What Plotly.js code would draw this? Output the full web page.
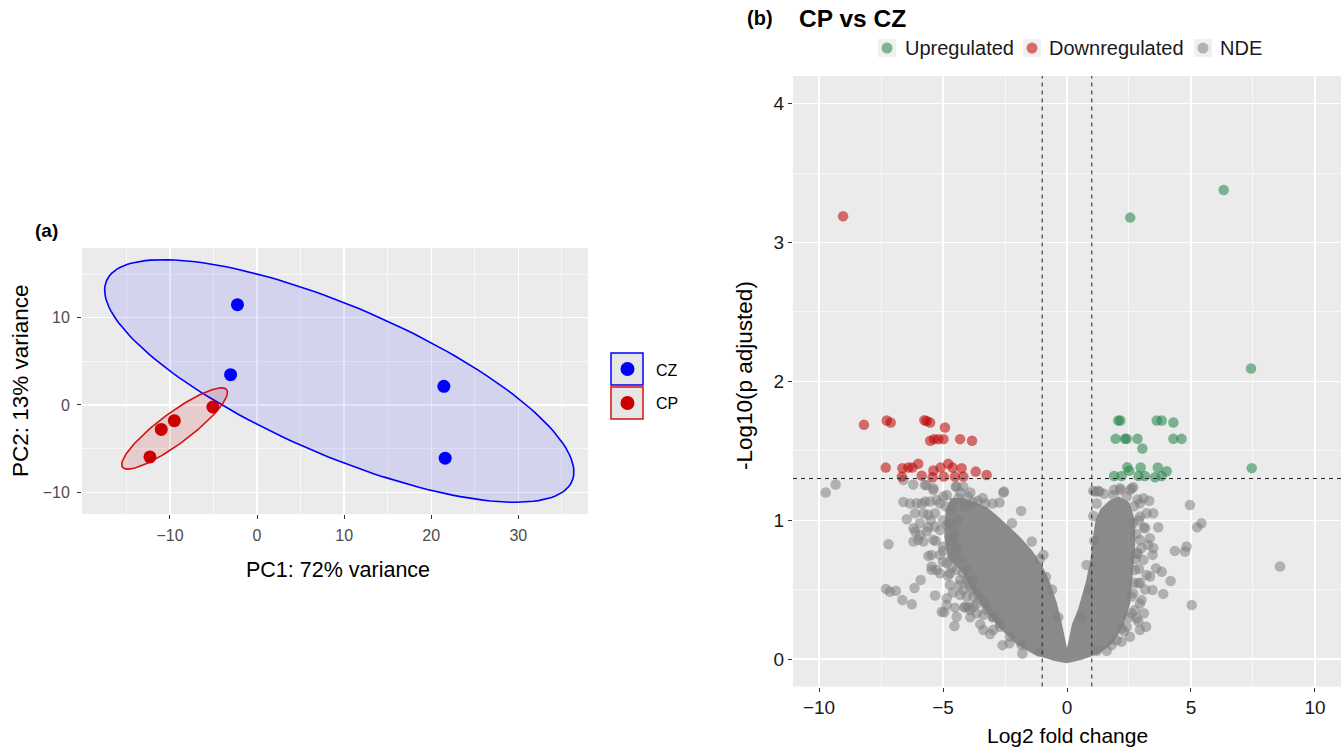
<!DOCTYPE html>
<html>
<head>
<meta charset="utf-8">
<script src="https://cdn.plot.ly/plotly-3.0.1.min.js"></script>
<style>html,body{margin:0;padding:0;background:#fff;}#chart{width:1341px;height:748px;}</style>
</head>
<body>
<div id="chart"></div>
<script>
// ---------- Panel (a): PCA ----------
const pcaGroups = ["CZ", "CP"];
const cz_pc1 = [-2.25, -3.04, 21.45, 21.6];
const cz_pc2 = [11.5, 3.47, 2.14, -6.1];
const cp_pc1 = [-5.07, -9.5, -11.0, -12.3];
const cp_pc2 = [-0.23, -1.8, -2.8, -5.95];
const pc1Ticks = [-10, 0, 10, 20, 30];
const pc2Ticks = [-10, 0, 10];

// ---------- Panel (b): volcano ----------
const volcanoClasses = ["Upregulated", "Downregulated", "NDE"];
const up_lfc = [6.32,2.55,7.42,7.45,2.07,2.15,3.62,3.82,4.29,1.96,2.34,2.41,2.84,4.29,4.62,3.04,2.43,2.51,2.97,3.66,4.02,1.90,2.20,2.88,3.14,3.55,3.82];
const up_logp = [3.379,3.18,2.093,1.375,1.718,1.718,1.718,1.718,1.704,1.586,1.586,1.586,1.586,1.586,1.586,1.516,1.382,1.356,1.38,1.38,1.353,1.319,1.319,1.319,1.319,1.31,1.319];
const down_lfc = [-9.03,-8.19,-7.27,-7.11,-5.75,-5.66,-5.52,-4.92,-5.52,-5.36,-5.19,-4.98,-4.31,-3.83,-7.31,-6.64,-6.40,-6.24,-6.0,-6.66,-5.86,-5.39,-5.42,-5.1,-4.97,-4.79,-4.61,-4.52,-4.25,-4.18,-3.68,-3.24];
const down_logp = [3.19,1.687,1.718,1.704,1.72,1.715,1.704,1.668,1.572,1.584,1.584,1.584,1.584,1.572,1.379,1.374,1.379,1.379,1.406,1.314,1.321,1.358,1.31,1.379,1.314,1.406,1.379,1.314,1.374,1.314,1.35,1.326];
const nde_lfc = [-9.73,-9.33,-7.2,-7.3,-7.14,-6.9,-6.64,-6.26,-6.15,-5.9,-5.59,-5.32,-5.05,-4.95,-4.85,-4.54,-4.52,-4.14,-6.6,-6.2,-6.46,-6.12,-6.0,-6.19,-5.79,-6.06,-5.72,-5.46,-5.46,-5.26,-5.26,-4.99,-5.66,-5.39,-5.79,-5.12,-4.71,-4.38,-4.45,-4.18,-4.34,-4.18,-3.78,-4.04,-3.64,-3.78,-6.6,-5.73,-5.39,-4.49,-2.54,-2.72,-1.85,-2.57,-2.22,-1.42,-0.95,-0.85,-1.12,-2.32,-2.97,-4.11,-3.37,-5.5,-5.3,-5.0,-5.6,-4.8,-4.6,-3.9,-3.5,-3.1,-2.6,-1.8,-3.0,-3.4,-3.9,-4.3,-1.1,-0.6,-0.35,
  -6.33,-6.13,-5.85,-5.52,-5.12,-4.85,-5.59,-5.32,-4.99,-5.93,-6.19,-5.65,-5.32,-4.85,-5.93,-5.39,-4.99,-4.58,-4.45,-4.65,-5.12,-4.85,-4.45,-5.46,-5.12,-4.72,-4.04,-4.31,-3.91,-4.72,-4.31,-3.78,-3.98,-3.64,-4.85,-4.45,
  -4.04,-3.78,-3.51,-3.24,-3.91,-2.97,-2.7,-3.37,-2.3,-1.83,-4.0,-3.6,-3.3,
  -4.9,-4.75,-4.6,-4.55,-4.4,-4.7,-4.5,-4.3,-5.0,-4.65,-4.2,-3.95,-3.6,-3.3,-3.0,-2.7,-4.1,-3.8,
  1.13,1.31,0.79,1.6,2.54,2.0,1.06,1.26,2.16,2.61,2.67,3.08,3.32,3.48,3.68,3.34,3.48,3.45,3.59,3.82,3.35,4.18,3.45,3.88,3.15,3.19,2.2,2.88,2.74,2.94,4.35,4.76,4.82,4.96,5.25,5.42,5.03,8.59,2.9,3.0,2.9,3.1,2.85,1.5,1.9,0.9,0.6,1.1,2.3,3.1,2.95,
  2.41,2.94,3.21,2.94,2.67,3.15,2.94,3.27,2.81,3.08,2.74,3.21,2.88,2.67,3.01,2.61,2.81,2.94,2.41,1.06,1.2,2.14,2.54,1.87,
  2.7,2.8,2.75,2.85,2.7,2.6,2.5,2.2,1.8,1.2];
const nde_logp = [1.20,1.257,0.827,0.505,0.485,0.492,0.425,0.394,0.511,0.57,0.743,0.457,0.341,0.336,0.437,0.238,0.37,0.372,1.132,1.257,1.007,0.918,0.858,0.846,0.846,1.122,1.134,0.75,0.666,0.642,1.146,1.17,1.254,1.218,1.05,0.93,1.074,1.158,1.242,1.242,0.533,0.498,0.57,0.45,0.40,0.377,1.29,1.254,1.23,1.242,1.206,1.127,1.067,1.2,0.978,0.846,0.75,0.593,0.053,0.113,0.21,0.377,0.318,1.0,0.85,0.78,0.95,0.6,0.48,0.3,0.25,0.18,0.1,0.04,1.12,1.16,1.2,1.2,0.72,0.5,0.3,
  1.12,1.05,1.12,1.134,1.12,1.182,1.04,1.05,1.0,0.978,0.942,0.918,0.954,0.966,0.894,0.858,0.81,0.882,0.81,0.726,0.75,0.69,0.642,0.642,0.618,0.618,0.642,0.57,0.522,0.534,0.462,0.45,0.377,0.329,0.389,0.305,
  0.57,0.5,0.43,0.353,0.353,0.305,0.233,0.209,0.161,0.101,1.17,1.14,1.12,
  1.1,0.98,1.1,0.92,1.0,0.85,0.78,0.72,0.7,0.66,0.62,0.55,0.47,0.4,0.3,0.26,1.1,1.13,
  1.206,1.206,0.678,0.06,0.161,0.137,1.211,1.21,1.218,1.23,1.238,1.159,1.14,1.05,0.949,0.87,0.80,0.75,0.654,0.629,0.594,0.562,0.497,0.469,0.5,0.233,0.125,0.27,0.352,0.4,0.779,0.774,0.81,1.11,0.949,0.978,0.389,0.666,1.0,0.8,0.65,0.95,1.15,1.19,1.22,0.5,0.3,0.85,0.2,0.33,0.55,
  1.17,1.122,1.05,1.026,0.978,0.942,0.858,0.822,0.762,0.714,0.642,0.606,0.546,0.474,0.426,0.329,0.293,0.209,0.233,1.03,1.12,1.23,1.218,1.182,
  1.1,0.9,0.72,0.76,0.55,0.45,0.3,0.22,0.1,0.06];
// outline of the solid, fully overlapped NDE mass
const core_lfc = [-4.7,-4.2,-3.6,-3.2,-2.8,-2.4,-1.9,-1.4,-1.0,-0.7,-0.4,-0.2,0.0,0.2,0.45,0.75,0.95,1.05,1.15,1.35,1.7,2.1,2.5,2.75,2.75,2.65,2.55,2.3,1.9,1.3,0.6,0.0,-0.5,-1.3,-2.0,-2.7,-3.3,-3.8,-4.25,-4.8,-4.95,-4.9];
const core_logp = [1.16,1.16,1.12,1.09,1.03,0.96,0.88,0.78,0.67,0.56,0.40,0.25,0.08,0.25,0.36,0.55,0.72,0.88,1.0,1.08,1.14,1.17,1.13,1.0,0.80,0.60,0.40,0.25,0.12,0.04,-0.005,-0.03,-0.015,0.03,0.10,0.22,0.35,0.49,0.63,0.73,0.88,1.05];
const lfcCut = 1;
const padjCut = 1.3;
const lfcTicks = [-10, -5, 0, 5, 10];
const logpTicks = [0, 1, 2, 3, 4];

// ---------- helpers ----------
const W = 1341, H = 748;
const px = x => x / W;
const py = y => 1 - y / H;
const FONT = "Liberation Sans, Arial, Helvetica, sans-serif";

// confidence-style ellipse from the group's covariance
function ellipse(xs, ys, k, n) {
  const m = xs.length;
  const mx = xs.reduce((a, b) => a + b, 0) / m;
  const my = ys.reduce((a, b) => a + b, 0) / m;
  let sxx = 0, syy = 0, sxy = 0;
  for (let i = 0; i < m; i++) {
    sxx += (xs[i] - mx) ** 2; syy += (ys[i] - my) ** 2; sxy += (xs[i] - mx) * (ys[i] - my);
  }
  sxx /= (m - 1); syy /= (m - 1); sxy /= (m - 1);
  const tr = sxx + syy, det = sxx * syy - sxy * sxy;
  const l1 = tr / 2 + Math.sqrt(tr * tr / 4 - det), l2 = tr / 2 - Math.sqrt(tr * tr / 4 - det);
  const th = Math.atan2(l1 - sxx, sxy);
  const a = k * Math.sqrt(l1), b = k * Math.sqrt(l2);
  const ex = [], ey = [];
  for (let i = 0; i <= n; i++) {
    const t = 2 * Math.PI * i / n;
    ex.push(mx + a * Math.cos(t) * Math.cos(th) - b * Math.sin(t) * Math.sin(th));
    ey.push(my + a * Math.cos(t) * Math.sin(th) + b * Math.sin(t) * Math.cos(th));
  }
  return {x: ex, y: ey};
}
const K = 1.93;
const eCZ = ellipse(cz_pc1, cz_pc2, K, 160);
const eCP = ellipse(cp_pc1, cp_pc2, K, 160);

const COL_CZ = "#0000ff", COL_CP = "#cc0000";
const COL_UP = "rgba(30,130,70,0.55)", COL_DOWN = "rgba(190,0,0,0.55)", COL_NDE = "rgba(127,127,127,0.55)";

const traces = [
  {x: eCZ.x, y: eCZ.y, type: "scatter", mode: "lines", fill: "toself", fillcolor: "rgba(0,0,255,0.10)",
   line: {color: COL_CZ, width: 1.6}, xaxis: "x", yaxis: "y", showlegend: false, hoverinfo: "skip"},
  {x: eCP.x, y: eCP.y, type: "scatter", mode: "lines", fill: "toself", fillcolor: "rgba(204,0,0,0.13)",
   line: {color: "#d81010", width: 1.6}, xaxis: "x", yaxis: "y", showlegend: false, hoverinfo: "skip"},
  {x: cz_pc1, y: cz_pc2, name: pcaGroups[0], type: "scatter", mode: "markers",
   marker: {color: COL_CZ, size: 13}, xaxis: "x", yaxis: "y", showlegend: false},
  {x: cp_pc1, y: cp_pc2, name: pcaGroups[1], type: "scatter", mode: "markers",
   marker: {color: COL_CP, size: 13}, xaxis: "x", yaxis: "y", showlegend: false},
  // volcano
  {x: core_lfc, y: core_logp, type: "scatter", mode: "lines", fill: "toself", fillcolor: "rgba(127,127,127,0.9)",
   line: {width: 0, color: "rgba(0,0,0,0)"}, xaxis: "x2", yaxis: "y2", showlegend: false, hoverinfo: "skip"},
  {x: nde_lfc, y: nde_logp, name: volcanoClasses[2], type: "scatter", mode: "markers",
   marker: {color: COL_NDE, size: 10.5}, xaxis: "x2", yaxis: "y2", showlegend: false},
  {x: down_lfc, y: down_logp, name: volcanoClasses[1], type: "scatter", mode: "markers",
   marker: {color: COL_DOWN, size: 10.5}, xaxis: "x2", yaxis: "y2", showlegend: false},
  {x: up_lfc, y: up_logp, name: volcanoClasses[0], type: "scatter", mode: "markers",
   marker: {color: COL_UP, size: 10.5}, xaxis: "x2", yaxis: "y2", showlegend: false}
];

const axBase = {ticks: "outside", ticklen: 4, tickwidth: 1, tickcolor: "#333", showgrid: true, gridcolor: "#ffffff",
  gridwidth: 1.3, zeroline: false, showline: false, fixedrange: true, tickmode: "array"};

const shapes = [
  {type: "line", xref: "x2", yref: "y2 domain", x0: -lfcCut, x1: -lfcCut, y0: 0, y1: 1, line: {color: "#222", width: 1, dash: "4px,4px"}},
  {type: "line", xref: "x2", yref: "y2 domain", x0: lfcCut, x1: lfcCut, y0: 0, y1: 1, line: {color: "#222", width: 1, dash: "4px,4px"}},
  {type: "line", xref: "x2 domain", yref: "y2", x0: 0, x1: 1, y0: padjCut, y1: padjCut, line: {color: "#222", width: 1, dash: "4px,4px"}},
  // legend (a)
  {type: "rect", xref: "paper", yref: "paper", x0: px(611), x1: px(643), y0: py(385), y1: py(353), fillcolor: "#e6e6e6", line: {color: COL_CZ, width: 1.5}},
  {type: "rect", xref: "paper", yref: "paper", x0: px(611), x1: px(643), y0: py(419), y1: py(387), fillcolor: "#e6e6e6", line: {color: "#d81010", width: 1.5}},
  {type: "circle", xref: "paper", yref: "paper", x0: px(620.5), x1: px(634.5), y0: py(376), y1: py(362), fillcolor: COL_CZ, line: {width: 0}},
  {type: "circle", xref: "paper", yref: "paper", x0: px(620.5), x1: px(634.5), y0: py(410), y1: py(396), fillcolor: COL_CP, line: {width: 0}}
];
// legend (b) keys
const keyX = [887, 1032, 1203];
const keyCols = [COL_UP, COL_DOWN, COL_NDE];
keyX.forEach((kx, i) => {
  shapes.push({type: "rect", xref: "paper", yref: "paper", x0: px(kx - 9), x1: px(kx + 9), y0: py(57), y1: py(39), fillcolor: "#f0f0f0", line: {width: 0}});
  shapes.push({type: "circle", xref: "paper", yref: "paper", x0: px(kx - 5.5), x1: px(kx + 5.5), y0: py(53.5), y1: py(42.5), fillcolor: keyCols[i], line: {width: 0}});
});

const ann = (text, x, y, opts) => Object.assign({text, xref: "paper", yref: "paper", x: px(x), y: py(y), showarrow: false,
  xanchor: "center", yanchor: "middle", font: {family: FONT, size: 20, color: "#000"}}, opts || {});

const annotations = [
  ann("<b>(a)</b>", 46, 230, {font: {family: FONT, size: 19, color: "#000"}}),
  ann("PC1: 72% variance", 338, 570, {font: {family: FONT, size: 21.5, color: "#000"}}),
  ann("PC2: 13% variance", 20, 381, {textangle: -90, font: {family: FONT, size: 22.5, color: "#000"}}),
  ann(pcaGroups[0], 654, 370, {xanchor: "left", font: {family: FONT, size: 16, color: "#000"}}),
  ann(pcaGroups[1], 654, 403, {xanchor: "left", font: {family: FONT, size: 16, color: "#000"}}),
  ann("<b>(b)</b>", 760, 18, {font: {family: FONT, size: 20, color: "#000"}}),
  ann("<b>CP vs CZ</b>", 797, 19, {xanchor: "left", font: {family: FONT, size: 24.5, color: "#000"}}),
  ann("Log2 fold change", 1067, 735, {font: {family: FONT, size: 21, color: "#000"}}),
  ann("-Log10(p adjusted)", 744, 376, {textangle: -90, font: {family: FONT, size: 22.5, color: "#000"}})
];
const keyTextX = [903, 1047, 1218];
volcanoClasses.forEach((c, i) => annotations.push(ann(c, keyTextX[i], 48, {xanchor: "left", font: {family: FONT, size: 20, color: "#1a1a1a"}})));

const layout = {
  width: W, height: H, margin: {l: 0, r: 0, t: 0, b: 0},
  paper_bgcolor: "#ffffff", plot_bgcolor: "#ebebeb",
  font: {family: FONT},
  showlegend: false,
  xaxis: Object.assign({}, axBase, {domain: [px(82), px(588)], range: [-20.1, 38], tickvals: pc1Ticks,
    tickfont: {family: FONT, size: 16, color: "#4d4d4d"}, anchor: "y", ticklabelstandoff: 3,
    minor: {tickmode: "array", tickvals: [-15, -5, 5, 15, 25, 35], showgrid: true, gridcolor: "#ffffff", gridwidth: 0.6, ticks: ""}}),
  yaxis: Object.assign({}, axBase, {domain: [py(514), py(248)], range: [-12.5, 18], tickvals: pc2Ticks,
    tickfont: {family: FONT, size: 16, color: "#4d4d4d"}, anchor: "x", ticklabelstandoff: 4,
    minor: {tickmode: "array", tickvals: [-5, 5, 15], showgrid: true, gridcolor: "#ffffff", gridwidth: 0.6, ticks: ""}}),
  xaxis2: Object.assign({}, axBase, {domain: [px(793), 1], range: [-11.05, 11.05], tickvals: lfcTicks,
    tickfont: {family: FONT, size: 19, color: "#1a1a1a"}, anchor: "y2",
    minor: {tickmode: "array", tickvals: [-7.5, -2.5, 2.5, 7.5], showgrid: true, gridcolor: "#ffffff", gridwidth: 0.6, ticks: ""}}),
  yaxis2: Object.assign({}, axBase, {domain: [py(686.5), py(76)], range: [-0.198, 4.2], tickvals: logpTicks,
    tickfont: {family: FONT, size: 19, color: "#1a1a1a"}, anchor: "x2",
    minor: {tickmode: "array", tickvals: [0.5, 1.5, 2.5, 3.5], showgrid: true, gridcolor: "#ffffff", gridwidth: 0.6, ticks: ""}}),
  shapes, annotations
};

Plotly.newPlot("chart", traces, layout, {staticPlot: true, displayModeBar: false});
</script>
</body>
</html>
